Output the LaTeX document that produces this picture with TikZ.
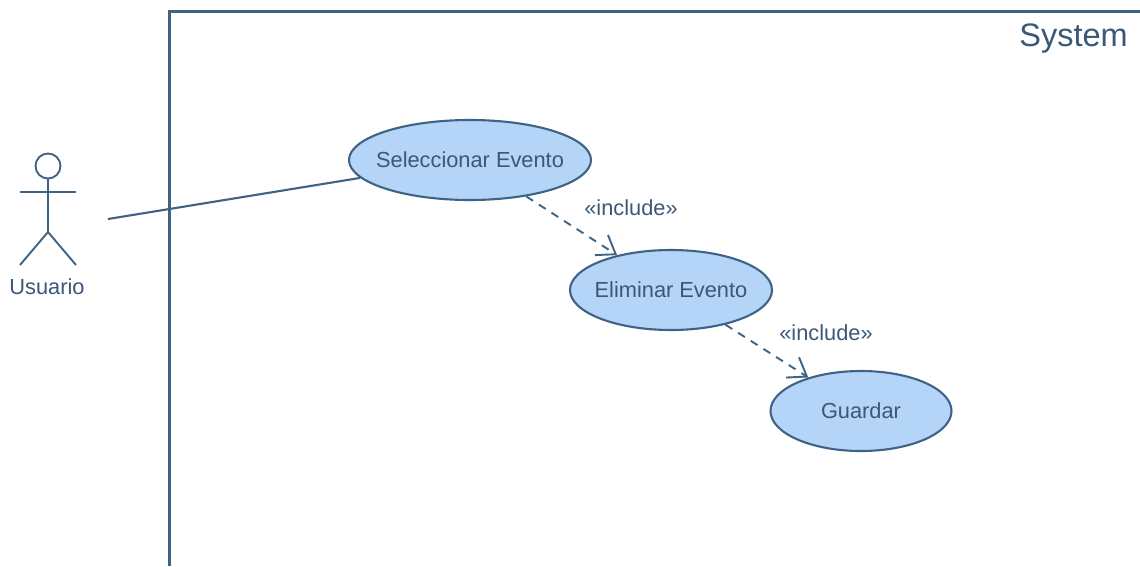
\documentclass[tikz,border=0pt]{standalone}
\usepackage{fontspec}
\setmainfont{Liberation Sans}
\usetikzlibrary{arrows.meta,shapes.geometric}
\definecolor{umlline}{HTML}{3F6385}
\definecolor{umltext}{HTML}{3A5878}
\definecolor{umlfill}{HTML}{B4D4F8}
\tikzset{
  usecase/.style={draw=umlline,fill=umlfill,line width=2.1pt,shape=ellipse,inner sep=0pt,text=umltext,font=\fontsize{21.8}{24}\selectfont},
  actorline/.style={draw=umlline,line width=1.9pt},
  assoc/.style={draw=umlline,line width=2.1pt},
  incl/.style={draw=umlline,line width=1.9pt,dash pattern=on 8pt off 7pt,-{Straight Barb[length=17pt,width=24pt,line width=1.9pt]}},
  lbl/.style={text=umltext,font=\fontsize{21.8}{24}\selectfont,inner sep=0pt},
}
\begin{document}
\begin{tikzpicture}[x=1pt,y=-1pt]
\useasboundingbox (0,0) rectangle (1140,566);
\fill[white] (0,0) rectangle (1140,566);
\coordinate (bl) at (169,566);
\coordinate (tl) at (169,11);
\coordinate (tr) at (1140,11);
\draw[draw=umlline,line width=3pt] (bl) -- (tl) -- (tr);
\node[text=umltext,font=\fontsize{32.5}{36}\selectfont,inner sep=0pt,anchor=east] (sys) at (1128,39) {System};
\node[usecase,minimum width=242pt,minimum height=80pt] (sel) at (470,160) {\makebox[0pt]{Seleccionar Evento}};
\node[usecase,minimum width=202pt,minimum height=80pt] (eli) at (671,290) {\makebox[0pt]{Eliminar Evento}};
\node[usecase,minimum width=181pt,minimum height=80pt] (gua) at (861,411) {\makebox[0pt]{Guardar}};
\node[draw=umlline,line width=1.9pt,circle,minimum size=25pt,inner sep=0pt] (head) at (48,166) {};
\coordinate (hip) at (48,232);
\coordinate (armL) at (20,192);
\coordinate (armR) at (76,192);
\coordinate (legL) at (20,265);
\coordinate (legR) at (76,265);
\draw[actorline] (head) -- (hip);
\draw[actorline] (armL) -- (armR);
\draw[actorline] (legL) -- (hip) -- (legR);
\node[lbl] (usu) at (47,287) {Usuario};
\coordinate (free) at (108,219);
\draw[assoc] (free) -- (sel);
\draw[incl] (sel) -- (eli);
\draw[incl] (eli) -- (gua);
\node[lbl] (i1) at (631,208) {«include»};
\node[lbl] (i2) at (826,333) {«include»};
\end{tikzpicture}
\end{document}
